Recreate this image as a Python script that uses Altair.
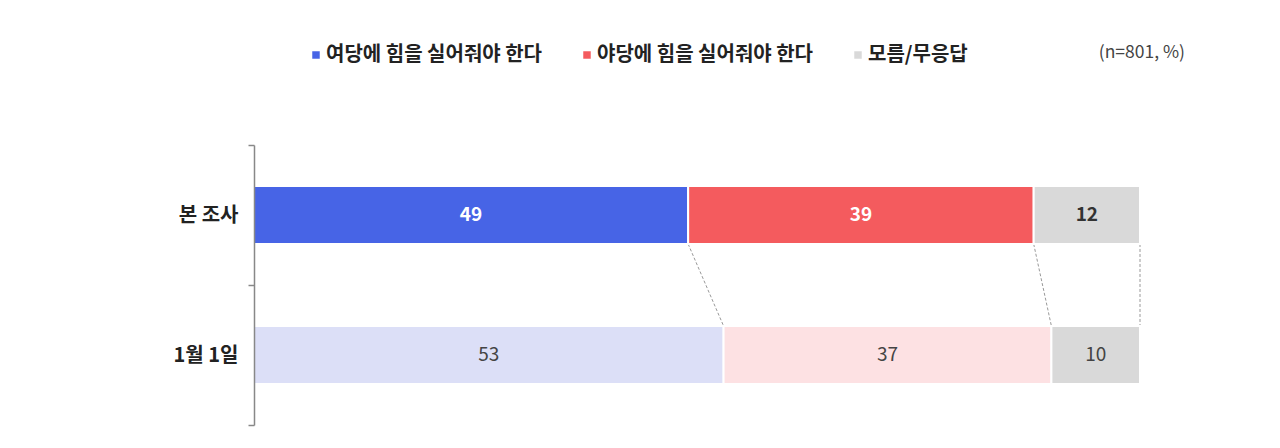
import altair as alt
import pandas as pd

FONT = "Noto Sans CJK KR"

PERIODS = ["본 조사", "1월 1일"]
CATEGORIES = ["여당에 힘을 실어줘야 한다", "야당에 힘을 실어줘야 한다", "모름/무응답"]
VALUES_NOW = [49, 39, 12]
VALUES_JAN1 = [53, 37, 10]
NOTE = "(n=801, %)"

DARK_COLORS = ["#4764E6", "#F45B5E", "#D9D9D9"]
LIGHT_COLORS = ["#DCDFF7", "#FDE1E3", "#D9D9D9"]
BAND = 0.414  # bar thickness as share of each row

rows = []
for period, values, suffix in [
    (PERIODS[0], VALUES_NOW, ""),
    (PERIODS[1], VALUES_JAN1, " (1월 1일)"),
]:
    start = 0
    for cat, val in zip(CATEGORIES, values):
        rows.append({
            "period": period,
            "category": cat,
            "key": cat + suffix,
            "value": val,
            "start": start,
            "end": start + val,
            "mid": start + val / 2,
        })
        start += val
df = pd.DataFrame(rows)

# dashed connectors: bottom edge of row 0 -> top edge of row 1
ends_now = df[df.period == PERIODS[0]]["end"].tolist()
ends_jan = df[df.period == PERIODS[1]]["end"].tolist()
conn_rows = []
for i, (a, b) in enumerate(zip(ends_now, ends_jan)):
    conn_rows.append({"id": i, "x": a, "row": 0.5 + BAND / 2})
    conn_rows.append({"id": i, "x": b, "row": 1.5 - BAND / 2})
conn = pd.DataFrame(conn_rows)

color_domain = CATEGORIES + [c + " (1월 1일)" for c in CATEGORIES]
color_range = DARK_COLORS + LIGHT_COLORS

x_scale = alt.Scale(domain=[0, 100], nice=False, zero=True)
y_scale = alt.Scale(domain=PERIODS, paddingInner=0, paddingOuter=0)

base = alt.Chart(df)

bars = base.mark_bar(
    stroke="white", strokeWidth=2, height=alt.RelativeBandSize(BAND)
).encode(
    x=alt.X("start:Q", scale=x_scale, axis=None),
    x2="end:Q",
    y=alt.Y(
        "period:N",
        scale=y_scale,
        title=None,
        axis=alt.Axis(
            domainColor="#888888",
            domainWidth=1.5,
            tickColor="#888888",
            tickWidth=1.5,
            tickSize=6,
            tickBand="extent",
            labelFont=FONT,
            labelFontSize=20,
            labelFontWeight="bold",
            labelColor="#222222",
            labelPadding=10,
            zindex=1,
        ),
    ),
    color=alt.Color(
        "key:N",
        scale=alt.Scale(domain=color_domain, range=color_range),
        legend=alt.Legend(
            values=CATEGORIES,
            title=None,
            orient="none",
            direction="horizontal",
            legendX=52,
            legendY=-100,
            symbolType="square",
            symbolSize=56,
            symbolStrokeWidth=0,
            labelFont=FONT,
            labelFontSize=20,
            labelFontWeight="bold",
            labelColor="#222222",
            labelOffset=0,
            labelLimit=400,
            columnPadding=34,
        ),
    ),
)

connectors = alt.Chart(conn).mark_line(
    color="#999999", strokeWidth=1, strokeDash=[3, 2]
).encode(
    x=alt.X("x:Q", scale=x_scale, axis=None),
    y=alt.Y("row:Q", scale=alt.Scale(domain=[0, 2], reverse=True, nice=False), axis=None),
    detail="id:N",
)

labels_now = base.transform_filter(
    alt.datum.period == PERIODS[0]
).mark_text(font=FONT, fontSize=19, fontWeight="bold", baseline="middle").encode(
    x=alt.X("mid:Q", scale=x_scale, axis=None),
    y=alt.Y("period:N", scale=y_scale, axis=None),
    text="value:Q",
    color=alt.condition(
        alt.datum.category == CATEGORIES[2], alt.value("#333333"), alt.value("#FFFFFF")
    ),
)

labels_jan = base.transform_filter(
    alt.datum.period == PERIODS[1]
).mark_text(font=FONT, fontSize=19, baseline="middle", color="#444444").encode(
    x=alt.X("mid:Q", scale=x_scale, axis=None),
    y=alt.Y("period:N", scale=y_scale, axis=None),
    text="value:Q",
)

note = alt.Chart(pd.DataFrame({"note": [NOTE]})).mark_text(
    font=FONT, fontSize=17.5, color="#444444", align="right", baseline="middle"
).encode(
    text="note:N",
    x=alt.value(931),
    y=alt.value(-92),
)

chart = (
    alt.layer(connectors, bars, labels_now, labels_jan, note)
    .resolve_scale(y="independent")
    .properties(
        width=886,
        height=280,
        autosize="none",
        padding={"left": 246, "top": 137, "right": 132, "bottom": 15},
        background="white",
    )
    .configure_view(stroke=None)
)

chart.save("out.html", embed_options={"renderer": "svg", "actions": False})
